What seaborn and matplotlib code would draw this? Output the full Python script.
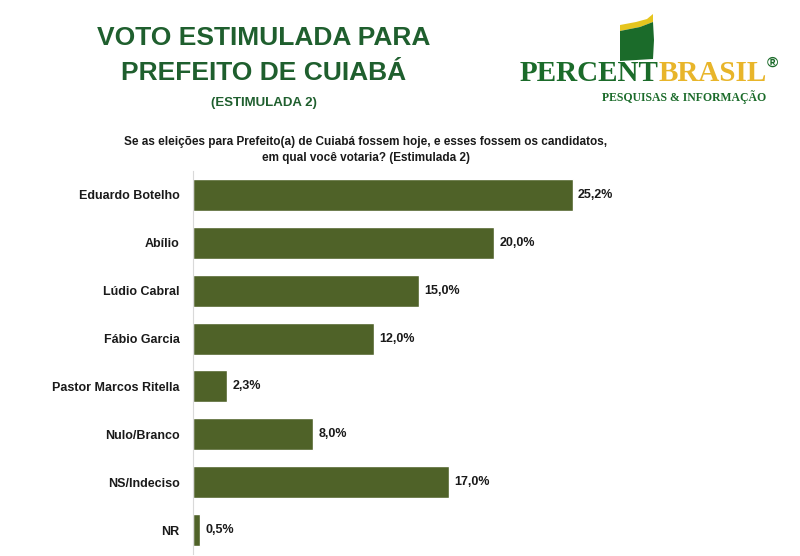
import matplotlib
matplotlib.use("Agg")
import matplotlib.pyplot as plt
import matplotlib.patches as mpatches
import matplotlib.transforms as mtransforms
import seaborn as sns
import pandas as pd

# dados da pesquisa
candidatos = ["Eduardo Botelho", "Abílio", "Lúdio Cabral", "Fábio Garcia",
              "Pastor Marcos Ritella", "Nulo/Branco", "NS/Indeciso", "NR"]
percentuais = [25.2, 20.0, 15.0, 12.0, 2.3, 8.0, 17.0, 0.5]
rotulos = ["25,2%", "20,0%", "15,0%", "12,0%", "2,3%", "8,0%", "17,0%", "0,5%"]

df = pd.DataFrame({"candidato": candidatos, "pct": percentuais})

sns.set_theme(style="white")
plt.rcParams['font.family'] = ['Liberation Sans', 'DejaVu Sans']

verde_barra = "#4f6228"
verde_titulo = "#1f5f2e"
verde_logo = "#1b6b2a"

fig = plt.figure(figsize=(8, 5.56), dpi=100)
ax = fig.add_axes([0.241, 0.0036, 0.735, 0.6888])

sns.barplot(data=df, x="pct", y="candidato", orient="h", color=verde_barra,
            width=0.67, saturation=1, ax=ax)

ax.set_xlim(0, 39.0)
ax.set_xlabel("")
ax.set_ylabel("")
ax.set_xticks([])
for s in ["top", "right", "bottom"]:
    ax.spines[s].set_visible(False)
ax.spines["left"].set_color("#d9d9d9")
ax.spines["left"].set_linewidth(0.8)
ax.tick_params(axis="y", length=0, pad=9.5)
for t in ax.get_yticklabels():
    t.set_fontweight("bold")
    t.set_fontsize(9)
    t.set_color("#1a1a1a")

for i, (v, r) in enumerate(zip(percentuais, rotulos)):
    ax.text(v + 0.35, i, r, va="center", ha="left", fontsize=9,
            fontweight="bold", color="#1a1a1a")

# titulo
fig.text(0.33, 0.932, "VOTO ESTIMULADA PARA", ha="center", va="center",
         fontsize=19, fontweight="bold", color=verde_titulo)
fig.text(0.33, 0.869, "PREFEITO DE CUIABÁ", ha="center", va="center",
         fontsize=19, fontweight="bold", color=verde_titulo)
fig.text(0.33, 0.814, "(ESTIMULADA 2)", ha="center", va="center",
         fontsize=9.5, fontweight="bold", color=verde_titulo)

# pergunta
fig.text(0.4575, 0.745, "Se as eleições para Prefeito(a) de Cuiabá fossem hoje, e esses fossem os candidatos,",
         ha="center", va="center", fontsize=8.5, fontweight="bold", color="#1a1a1a")
fig.text(0.4575, 0.716, "em qual você votaria? (Estimulada 2)",
         ha="center", va="center", fontsize=8.5, fontweight="bold", color="#1a1a1a")

# logo (coordenadas em pixels da imagem)
px = mtransforms.Affine2D().scale(1 / 800, -1 / 556).translate(0, 1) + fig.transFigure
faixa = mpatches.Polygon([(620, 25), (636, 22), (647, 19), (653, 14), (653, 22),
                          (640, 27), (620, 31)], closed=True, transform=px,
                         facecolor="#e6c51e", edgecolor="none")
emblema = mpatches.Polygon([(620, 31), (640, 27), (653, 22), (654, 40), (653, 59),
                            (620, 61)], closed=True, transform=px,
                           facecolor=verde_logo, edgecolor="none")
fig.patches.extend([faixa, emblema])
t1 = fig.text(0.650, 0.867, "PERCENT", ha="left", va="center", fontsize=21,
              fontweight="bold", color=verde_logo, family=["Liberation Serif", "DejaVu Serif"])
fig.canvas.draw()
bb = t1.get_window_extent().transformed(fig.transFigure.inverted())
fig.text(bb.x1, 0.867, "BRASIL", ha="left", va="center", fontsize=21,
         fontweight="bold", color="#e8b52a", family=["Liberation Serif", "DejaVu Serif"])
fig.text(0.965, 0.888, "®", ha="center", va="center", fontsize=11,
         fontweight="bold", color=verde_logo)
fig.text(0.958, 0.826, "PESQUISAS & INFORMAÇÃO", ha="right", va="center", fontsize=8.5,
         fontweight="bold", color=verde_logo, family=["Liberation Serif", "DejaVu Serif"])

fig.savefig("out.png", dpi=100)
